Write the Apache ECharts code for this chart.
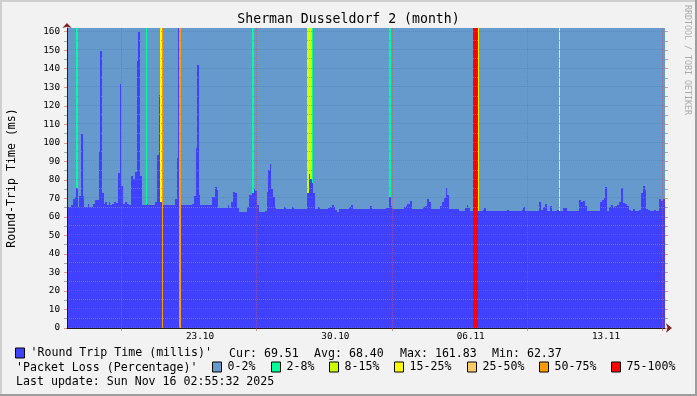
<!DOCTYPE html>
<html><head><meta charset="utf-8">
<script src="https://cdn.jsdelivr.net/npm/echarts@6/dist/echarts.min.js"></script>
<style>html,body{margin:0;padding:0;background:#F2F2F2;overflow:hidden}#c{width:697px;height:396px}</style>
</head><body><div id="c"></div>
<script>
// ---------- data ----------
const chartTitle = 'Sherman Dusseldorf 2 (month)';
const yAxisName = 'Round-Trip Time (ms)';
const rttName = "'Round Trip Time (millis)'";
const lossTitle = "'Packet Loss (Percentage)'";
const lastUpdate = 'Last update: Sun Nov 16 02:55:32 2025';
const watermark = 'RRDTOOL / TOBI OETIKER';
// x axis in days since 16.10 00:00
const xMin = 0.12, xMax = 31.05;
const xLabelPos = [7, 14, 21, 28];
const xLabels = ['23.10', '30.10', '06.11', '13.11'];
const xGridPos = [2.93, 9.93, 16.93, 23.93, 30.93];
const yMax = 162;
const yTicks = [0, 10, 20, 30, 40, 50, 60, 70, 80, 90, 100, 110, 120, 130, 140, 150, 160];
const yMinorTicks = [5, 15, 25, 35, 45, 55, 65, 75, 85, 95, 105, 115, 125, 135, 145, 155];
const statsLabels = ['Cur:', 'Avg:', 'Max:', 'Min:'];
const statsValues = [69.51, 68.40, 161.83, 62.37];
// RTT steps: [start day, value] ; null = unknown
const rttSteps = [
[0.12,65.2],[0.33,66.5],[0.43,69.7],[0.53,70.8],[0.58,75.6],[0.69,65.2],[0.74,71.4],[0.84,104.8],[0.95,71.4],[1.00,65.2],
[1.21,67.0],[1.26,65.2],[1.46,67.0],[1.57,69.2],[1.77,95.6],[1.83,149.7],[1.93,73.0],[2.03,67.0],[2.09,68.3],[2.19,66.5],
[2.29,67.8],[2.34,66.5],[2.45,67.0],[2.55,67.8],[2.65,67.4],[2.76,83.9],[2.86,131.7],[2.91,76.7],[3.02,67.0],[3.12,68.3],
[3.22,67.0],[3.33,66.5],[3.43,82.2],[3.53,80.4],[3.64,84.0],[3.74,144.3],[3.79,159.7],[3.90,82.2],[4.00,66.5],[4.26,67.0],
[4.31,66.5],[4.67,68.3],[4.78,93.4],[4.88,125.8],[4.93,67.8],[5.03,null],[5.09,66.5],[5.71,69.7],[5.81,92.0],[5.86,161.83],
[5.91,null],[6.02,66.5],[6.59,67.0],[6.69,71.4],[6.79,97.0],[6.84,141.9],[6.95,71.8],[7.00,66.5],[7.62,71.0],[7.78,75.9],
[7.88,74.4],[7.93,64.7],[8.45,66.5],[8.50,64.7],[8.60,68.3],[8.71,73.7],[8.81,72.7],[8.91,64.7],[9.02,62.4],[9.38,62.9],
[9.43,65.6],[9.53,71.8],[9.69,73.0],[9.79,74.8],[9.84,74.1],[9.95,66.5],[10.05,62.4],[10.36,63.4],[10.47,73.7],[10.52,85.3],
[10.62,88.6],[10.67,74.8],[10.78,70.6],[10.88,64.7],[10.93,64.3],[11.34,65.6],[11.45,64.3],[11.76,65.2],[11.86,64.3],[12.53,72.7],
[12.64,83.2],[12.69,80.4],[12.79,78.3],[12.84,72.7],[12.95,64.3],[13.10,65.1],[13.21,64.3],[13.62,64.9],[13.72,65.6],[13.83,66.5],
[13.93,65.2],[13.98,63.8],[14.09,62.9],[14.19,64.0],[14.29,64.3],[14.71,65.6],[14.81,66.5],[14.91,64.3],[15.79,65.8],[15.90,64.3],
[16.62,64.7],[16.78,71.0],[16.88,66.0],[16.93,64.3],[17.55,65.2],[17.66,66.0],[17.71,67.0],[17.86,68.6],[17.97,64.3],[18.54,65.2],
[18.64,66.0],[18.74,69.5],[18.85,68.1],[18.95,64.3],[19.41,66.0],[19.52,67.8],[19.62,70.1],[19.72,75.5],[19.78,71.8],[19.88,64.3],
[20.40,63.2],[20.71,64.7],[20.81,66.5],[20.86,64.7],[20.97,63.2],[21.12,null],[21.36,63.2],[21.64,63.8],[21.69,64.9],[21.79,63.2],
[22.88,63.8],[22.98,63.2],[23.66,63.8],[23.71,65.6],[23.81,63.2],[24.54,67.8],[24.64,63.8],[24.74,65.2],[24.85,67.0],[24.95,63.2],
[25.11,66.0],[25.21,63.2],[25.47,63.8],[25.57,63.2],[25.78,64.9],[25.98,63.2],[26.61,69.2],[26.71,67.8],[26.81,68.6],[26.92,66.0],
[27.02,63.2],[27.69,68.3],[27.80,69.0],[27.90,70.1],[27.95,76.1],[28.05,63.2],[28.16,65.2],[28.26,66.5],[28.36,65.4],[28.47,66.0],
[28.57,66.5],[28.67,67.8],[28.78,75.5],[28.88,67.4],[28.98,66.7],[29.09,66.0],[29.19,63.8],[29.30,63.2],[29.40,64.3],[29.50,63.2],
[29.71,63.8],[29.81,72.7],[29.92,76.7],[30.02,74.6],[30.07,64.3],[30.17,63.8],[30.28,63.2],[30.49,63.8],[30.59,63.2],[30.74,69.7],
[30.85,68.6],[30.95,69.51]
];
const rttEnd = 31.05;
// packet loss periods [start day, end day] per class
const lossNames = ['0-2%', '2-8%', '8-15%', '15-25%', '25-50%', '50-75%', '75-100%'];
const lossColors = ['#6699CC', '#00FF99', '#CCFF00', '#FFFF00', '#FFCC66', '#FF9900', '#FF0000'];
const loss_0_2 = [];
const loss_2_8 = [[0.58,0.69],[4.21,4.26],[9.69,9.79],[12.78,12.83],[16.78,16.88]];
const loss_8_15 = [[12.53,12.78]];
const loss_15_25 = [[4.93,5.03],[21.36,21.43],[25.56,25.62]];
const loss_25_50 = [];
const loss_50_75 = [[5.03,5.09],[5.91,6.02]];
const loss_75_100 = [[21.12,21.36]];
const lossData = [loss_0_2, loss_2_8, loss_8_15, loss_15_25, loss_25_50, loss_50_75, loss_75_100];

// ---------- style ----------
const MONO = '"DejaVu Sans Mono", monospace';
const MGRID = 'rgba(222,79,79,0.6)';
const GRID = 'rgba(143,143,143,0.75)';
const lossLegendX = [212, 271, 329, 394, 467, 539, 611];
const statsX = [229, 314, 400, 492];

const rttData = rttSteps.map((s, i) => [s[0], i + 1 < rttSteps.length ? rttSteps[i + 1][0] : rttEnd, s[1] == null ? NaN : s[1]]);

function stripeRender(params, api) {
  const top = api.coord([api.value(0), yMax]);
  const bot = api.coord([api.value(1), 0]);
  const x0 = Math.round(top[0]), x1 = Math.round(bot[0]);
  return {type: 'rect', shape: {x: x0, y: Math.round(top[1]), width: Math.max(1, x1 - x0), height: Math.round(bot[1]) - Math.round(top[1])},
    style: {fill: api.visual('color')}};
}
function rttRender(params, api) {
  const v = api.value(2);
  if (v == null || isNaN(v)) return null;
  const p0 = api.coord([api.value(0), v]);
  const p1 = api.coord([api.value(1), 0]);
  const x0 = Math.round(p0[0]), x1 = Math.round(p1[0]);
  const y0 = Math.round(p0[1]), y1 = Math.round(p1[1]);
  return {type: 'rect', shape: {x: x0, y: y0, width: x1 - x0, height: y1 - y0}, style: {fill: api.visual('color')}};
}
function hGridRender(params, api) {
  const a = api.coord([xMin, api.value(0)]);
  const b = api.coord([xMax, api.value(0)]);
  const y = Math.round(a[1]) - 0.5;
  return {type: 'line', shape: {x1: Math.round(a[0]), y1: y, x2: Math.round(b[0]), y2: y},
    style: {stroke: api.visual('color'), lineWidth: 1, lineDash: [1, 1]}};
}

const series = lossNames.map((n, i) => ({
  name: n, type: 'custom', data: lossData[i], renderItem: stripeRender, silent: true, z: 1,
  itemStyle: {color: lossColors[i]}, clip: true
}));
series.push({name: rttName, type: 'custom', data: rttData, renderItem: rttRender, silent: true, z: 2,
  itemStyle: {color: '#4040FF'}, encode: {x: [0, 1], y: 2}, clip: true});
series.push({name: 'minor grid', type: 'custom', data: yMinorTicks.map(v => [v]), encode: {y: 0}, renderItem: hGridRender,
  silent: true, z: 3, itemStyle: {color: GRID}, clip: false});
series.push({name: 'major grid', type: 'custom', data: yTicks.map(v => [v]), encode: {y: 0}, renderItem: hGridRender,
  silent: true, z: 4, itemStyle: {color: MGRID}, clip: false});

const legendCommon = {orient: 'horizontal', padding: 0, itemWidth: 9, itemHeight: 10, icon: 'rect', itemGap: 0,
  selectedMode: false, textStyle: {fontFamily: MONO, fontSize: 11.6, color: '#000', padding: [0, 0, 0, 1]},
  itemStyle: {borderColor: '#000', borderWidth: 1}};
const legends = [Object.assign({data: [rttName], left: 15, top: 347}, legendCommon)];
lossNames.forEach((n, i) => legends.push(Object.assign({data: [n], left: lossLegendX[i], top: 361}, legendCommon)));

const graphics = [
  {type: 'rect', shape: {x: 0, y: 0, width: 697, height: 2}, style: {fill: '#CFCFCF'}, silent: true},
  {type: 'rect', shape: {x: 0, y: 0, width: 2, height: 396}, style: {fill: '#CFCFCF'}, silent: true},
  {type: 'rect', shape: {x: 0, y: 394, width: 697, height: 2}, style: {fill: '#9E9E9E'}, silent: true},
  {type: 'rect', shape: {x: 695, y: 0, width: 2, height: 396}, style: {fill: '#9E9E9E'}, silent: true},
  {type: 'text', x: 687, y: 5, rotation: -Math.PI / 2, silent: true,
    style: {text: watermark, font: '8.3px ' + MONO, fill: '#AAAAAA', align: 'left', verticalAlign: 'middle'}},
  {type: 'text', x: 16, y: 368, silent: true, style: {text: lossTitle, font: '11.6px ' + MONO, fill: '#000', verticalAlign: 'middle'}},
  {type: 'text', x: 16, y: 382, silent: true, style: {text: lastUpdate, font: '11.6px ' + MONO, fill: '#000', verticalAlign: 'middle'}}
];
statsLabels.forEach((l, i) => graphics.push({type: 'text', x: statsX[i], y: 354, silent: true,
  style: {text: l + ' ' + statsValues[i].toFixed(2), font: '11.6px ' + MONO, fill: '#000', verticalAlign: 'middle'}}));

const hidden = {axisLabel: {show: false}, axisTick: {show: false}, splitLine: {show: false}};

const option = {
  animation: false,
  backgroundColor: '#F2F2F2',
  title: {text: chartTitle, left: 'center', top: 13, padding: 0,
    textStyle: {fontFamily: MONO, fontSize: 13.2, fontWeight: 'normal', color: '#000'}},
  grid: {left: 67, top: 28, width: 598, height: 300, show: true, backgroundColor: lossColors[0], borderWidth: 0,
    containLabel: false, outerBoundsMode: 'none'},
  legend: legends,
  xAxis: [
    {type: 'value', min: xMin, max: xMax, z: 10,
      axisLine: {show: true, onZero: false, lineStyle: {color: '#1F1F1F', width: 1}},
      axisTick: {show: true, length: 3, customValues: xGridPos, lineStyle: {color: MGRID}},
      axisLabel: {show: true, customValues: xLabelPos, margin: 4, fontFamily: MONO, fontSize: 9.33, color: '#000',
        formatter: v => { const k = xLabelPos.findIndex(p => Math.abs(p - v) < 1e-6); return k >= 0 ? xLabels[k] : ''; }},
      splitLine: {show: true, lineStyle: {color: MGRID, type: [1, 1], width: 1}}},
    Object.assign({type: 'value', min: xMin, max: xMax, z: 11, position: 'bottom',
      axisLine: {show: true, onZero: false, symbol: ['none', 'arrow'], symbolSize: [7, 6], symbolOffset: [0, 7],
        lineStyle: {color: '#801F1F', width: 0}}}, hidden)
  ],
  yAxis: [
    {type: 'value', min: 0, max: yMax, interval: 10, z: 10,
      name: yAxisName, nameLocation: 'middle', nameGap: 49, nameRotate: 90,
      nameTextStyle: {fontFamily: MONO, fontSize: 11.6, color: '#000'},
      axisLine: {show: true, onZero: false, lineStyle: {color: '#1F1F1F', width: 1}},
      axisTick: {show: true, length: 3, customValues: yTicks, lineStyle: {color: MGRID}},
      minorTick: {show: true, splitNumber: 2, length: 3, lineStyle: {color: GRID}},
      axisLabel: {show: true, customValues: yTicks, margin: 7, fontFamily: MONO, fontSize: 9.33, color: '#000'},
      splitLine: {show: false}, minorSplitLine: {show: false}},
    {type: 'value', min: 0, max: yMax, interval: 10, z: 10, position: 'right',
      axisLine: {show: false},
      axisTick: {show: true, length: 3, customValues: yTicks, lineStyle: {color: MGRID}},
      minorTick: {show: true, splitNumber: 2, length: 3, lineStyle: {color: GRID}},
      axisLabel: {show: false}, splitLine: {show: false}},
    Object.assign({type: 'value', min: 0, max: yMax, z: 11, position: 'left',
      axisLine: {show: true, onZero: false, symbol: ['none', 'arrow'], symbolSize: [7, 5], symbolOffset: [0, 5],
        lineStyle: {color: '#801F1F', width: 0}}}, hidden)
  ],
  series: series,
  graphic: graphics
};
const chart = echarts.init(document.getElementById('c'), null, {renderer: 'canvas'});
chart.setOption(option);
</script></body></html>
